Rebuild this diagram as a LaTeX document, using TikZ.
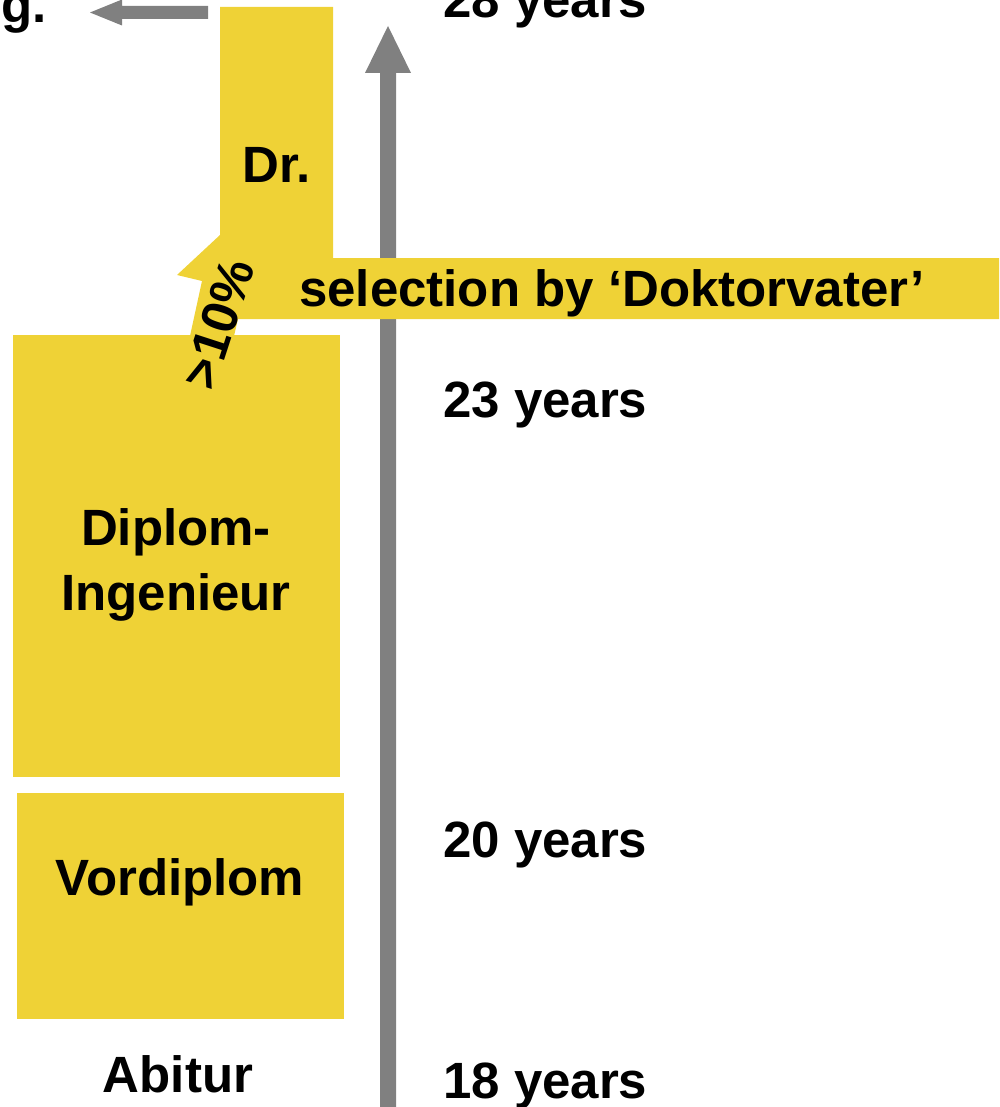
\documentclass[tikz,border=0pt]{standalone}
\usepackage{fontspec}
\setmainfont{Liberation Sans}
\definecolor{ylw}{RGB}{239,210,54}
\definecolor{gry}{RGB}{128,128,128}
\begin{document}
\begin{tikzpicture}[x=1pt,y=-1pt,
  lbl/.style={font=\fontsize{51}{64}\selectfont\bfseries, inner sep=0pt},
  ybox/.style={fill=ylw},
  garrow/.style={fill=gry}]
\useasboundingbox (0,0) rectangle (999,1107);
\clip (0,0) rectangle (999,1107);
% vertical time arrow
\fill[garrow] (380,1110) -- (380,73) -- (365,73) -- (388,26) -- (411,73) -- (396,73) -- (396,1110) -- cycle;
% left arrow
\fill[garrow] (208,6) -- (122,6) -- (122,-0.5) -- (90,12.5) -- (122,25.5) -- (122,19) -- (208,19) -- cycle;
% Dr. column with selection band and notch
\fill[ybox] (220,7) -- (333,7) -- (333,258) -- (999,258) -- (999,319) -- (238,319) -- (234,336)
  -- (190,336) -- (202,281) -- (177,275) -- (220,235) -- cycle;
% boxes
\fill[ybox] (13,335) rectangle (340,777);
\fill[ybox] (17,793) rectangle (344,1019);
% texts
\node[lbl, anchor=base west] (g) at (1,23) {g.};
\node[lbl, anchor=base west] (y28) at (443,18) {28 years};
\node[lbl, anchor=base] (dr) at (277,183) {Dr.};
\node[lbl, anchor=base west] (sel) at (299,306) {selection by ‘Doktorvater’};
\node[lbl, anchor=base west] (y23) at (443,417) {23 years};
\node[lbl, anchor=base] (dipl1) at (176,545) {Diplom-};
\node[lbl, anchor=base] (dipl2) at (176,610) {Ingenieur};
\node[lbl, anchor=base west] (y20) at (443,857) {20 years};
\node[lbl, anchor=base] (vord) at (180,895) {Vordiplom};
\node[lbl, anchor=base] (abi) at (178,1092) {Abitur};
\node[lbl, anchor=base west] (y18) at (443,1098) {18 years};
\node[lbl, rotate=72] (pct) at (218,324) {>10\%};
\end{tikzpicture}
\end{document}
